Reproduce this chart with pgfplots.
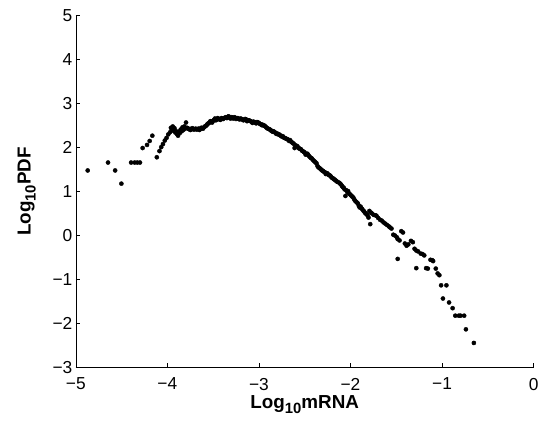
\documentclass[border=0pt]{standalone}
\usepackage{fontspec}
\setmainfont{Liberation Sans}
\usepackage{pgfplots}
\pgfplotsset{compat=1.18}
\newcommand{\sub}[1]{\raisebox{-0.5ex}{\fontsize{15}{15}\selectfont #1}}
\begin{document}
\begin{tikzpicture}
\useasboundingbox (0,0) rectangle (546pt,426pt);
\begin{axis}[
  at={(76.5pt,55pt)}, anchor=south west,
  width=462pt, height=355.3pt, scale only axis,
  xmin=-5, xmax=0, ymin=-3, ymax=5,
  axis lines=left, axis line style={-, line width=0.6pt},
  tick align=inside, major tick length=4.5pt, tick style={black, line width=0.6pt},
  xtick={-5,...,0}, ytick={-3,...,5},
  xticklabels={−5,−4,−3,−2,−1,0}, yticklabels={−3,−2,−1,0,1,2,3,4,5},
  tick label style={font=\fontsize{17.5}{18}\selectfont},
  xticklabel style={yshift=-7pt},
  xlabel={Log\sub{10}mRNA}, ylabel={Log\sub{10}PDF},
  label style={font=\bfseries\fontsize{19}{20}\selectfont},
  ylabel shift=10pt, xlabel shift=-2pt,
  clip=false,
]
% left tail and rising branch
\addplot[only marks, mark=*, mark size=2.1pt, black] coordinates {
(-4.870,1.48) (-4.648,1.66) (-4.570,1.48) (-4.502,1.18) (-4.396,1.66) (-4.357,1.66) (-4.328,1.66) (-4.299,1.66)
(-4.270,1.99) (-4.222,2.06) (-4.193,2.15) (-4.164,2.27) (-4.115,1.78) (-4.086,1.92) (-4.067,2.01) (-4.048,2.08)
(-4.028,2.16) (-4.009,2.22) (-3.990,2.30) (-3.970,2.35) (-3.951,2.42) (-3.932,2.38) (-3.912,2.34) (-3.893,2.30)
(-3.883,2.27) (-3.864,2.33) (-3.844,2.37) (-3.825,2.40) (-3.806,2.43) (-3.796,2.57) (-3.786,2.45) (-3.961,2.45)
(-3.941,2.48) (-3.922,2.44) (-3.903,2.37) (-3.874,2.36) (-3.854,2.41) (-3.835,2.46) (-3.815,2.48)
};
% dense body
\addplot[only marks, mark=*, mark size=2.1pt, black] coordinates {
(-3.78,2.44) (-3.76,2.42) (-3.74,2.41) (-3.72,2.43) (-3.70,2.42) (-3.68,2.41) (-3.66,2.43) (-3.64,2.42)
(-3.62,2.44) (-3.60,2.46) (-3.58,2.49) (-3.56,2.54) (-3.54,2.57) (-3.52,2.58) (-3.50,2.61) (-3.48,2.66)
(-3.46,2.64) (-3.44,2.65) (-3.42,2.63) (-3.40,2.66) (-3.38,2.67) (-3.36,2.69) (-3.34,2.70) (-3.32,2.68)
(-3.30,2.69) (-3.28,2.66) (-3.26,2.68) (-3.24,2.67) (-3.22,2.65) (-3.20,2.66) (-3.18,2.64) (-3.16,2.63)
(-3.14,2.64) (-3.12,2.62) (-3.10,2.61) (-3.08,2.58) (-3.06,2.59) (-3.04,2.57) (-3.02,2.58) (-3.00,2.56)
(-2.98,2.53) (-2.96,2.52) (-2.94,2.50) (-2.92,2.46) (-2.90,2.43) (-2.88,2.41) (-2.86,2.38) (-2.84,2.37)
(-2.82,2.34) (-2.80,2.32) (-2.78,2.30) (-2.76,2.27) (-2.74,2.26) (-2.72,2.22) (-2.70,2.20) (-2.68,2.18)
(-2.66,2.17) (-2.64,2.12) (-2.62,2.09) (-2.60,2.05) (-2.58,2.03) (-2.56,1.98) (-2.54,1.96) (-2.52,1.92)
(-2.50,1.89) (-2.48,1.85) (-2.46,1.83) (-2.44,1.78) (-2.42,1.75) (-2.40,1.70) (-2.38,1.66) (-2.36,1.58)
(-2.34,1.54) (-2.32,1.50) (-2.30,1.47) (-2.28,1.44) (-2.26,1.42) (-2.24,1.38) (-2.22,1.36) (-2.20,1.31)
(-2.18,1.28) (-2.16,1.25) (-2.14,1.22)
(-3.77,2.43) (-3.75,2.40) (-3.73,2.44) (-3.71,2.41) (-3.69,2.43) (-3.67,2.42) (-3.65,2.40) (-3.63,2.45)
(-3.61,2.43) (-3.59,2.48) (-3.57,2.51) (-3.55,2.55) (-3.53,2.60) (-3.51,2.57) (-3.49,2.63) (-3.47,2.62)
(-3.45,2.67) (-3.43,2.64) (-3.41,2.67) (-3.39,2.65) (-3.37,2.68) (-3.35,2.67) (-3.33,2.71) (-3.31,2.66)
(-3.29,2.68) (-3.27,2.69) (-3.25,2.65) (-3.23,2.67) (-3.21,2.64) (-3.19,2.65) (-3.17,2.62) (-3.15,2.65)
(-3.13,2.60) (-3.11,2.62) (-3.09,2.60) (-3.07,2.56) (-3.05,2.58) (-3.03,2.55) (-3.01,2.57) (-2.99,2.54)
(-2.97,2.51) (-2.95,2.50) (-2.93,2.48) (-2.91,2.44) (-2.89,2.42) (-2.87,2.39) (-2.85,2.36) (-2.83,2.35)
(-2.81,2.31) (-2.79,2.30) (-2.77,2.28) (-2.75,2.25) (-2.73,2.23) (-2.71,2.21) (-2.69,2.19) (-2.67,2.15)
(-2.65,2.14) (-2.63,2.10) (-2.61,1.99) (-2.59,2.04) (-2.57,2.00) (-2.55,1.97) (-2.53,1.93) (-2.51,1.90)
(-2.49,1.84) (-2.47,1.86) (-2.45,1.80) (-2.43,1.76) (-2.41,1.72) (-2.39,1.68) (-2.37,1.64) (-2.35,1.55)
(-2.33,1.52) (-2.31,1.48) (-2.29,1.45) (-2.27,1.40) (-2.25,1.41) (-2.23,1.37) (-2.21,1.33) (-2.19,1.30)
(-2.17,1.27) (-2.15,1.23)
};
% right tail
\addplot[only marks, mark=*, mark size=2.1pt, black] coordinates {
(-2.122,1.20) (-2.113,1.18) (-2.103,1.16) (-2.093,1.13) (-2.084,1.10) (-2.074,1.09) (-2.064,1.05) (-2.055,0.90)
(-2.045,1.03) (-2.035,0.99) (-2.026,1.01) (-2.016,0.96) (-2.006,0.94) (-1.997,0.92) (-1.987,0.90) (-1.977,0.88)
(-1.968,0.86) (-1.958,0.82) (-1.948,0.79) (-1.939,0.77) (-1.929,0.75) (-1.919,0.73) (-1.909,0.68) (-1.900,0.64)
(-1.890,0.66) (-1.880,0.62) (-1.871,0.60) (-1.861,0.57) (-1.851,0.55) (-1.842,0.52) (-1.832,0.50) (-1.822,0.48)
(-1.813,0.46) (-1.803,0.41) (-1.793,0.56) (-1.784,0.26) (-1.774,0.52) (-1.764,0.50) (-1.745,0.47) (-1.726,0.46)
(-1.716,0.45) (-1.697,0.40) (-1.677,0.36) (-1.658,0.34) (-1.639,0.30) (-1.619,0.27) (-1.600,0.24) (-1.581,0.21)
(-1.571,0.19) (-1.552,0.16) (-1.532,0.02) (-1.513,0.00) (-1.493,-0.04) (-1.484,-0.08) (-1.464,-0.11) (-1.445,0.10)
(-1.426,0.07) (-1.406,-0.18) (-1.387,-0.23) (-1.368,-0.20) (-1.339,-0.12) (-1.319,-0.15) (-1.300,-0.30) (-1.281,-0.34)
(-1.261,-0.36) (-1.232,-0.41) (-1.213,-0.42) (-1.194,-0.45) (-1.484,-0.53) (-1.126,-0.55) (-1.106,-0.56) (-1.097,-0.58)
(-1.155,-0.75) (-1.174,-0.74) (-1.281,-0.74) (-1.068,-0.75) (-1.048,-0.86) (-1.029,-0.90) (-1.010,-1.13) (-0.952,-1.13)
(-0.990,-1.43) (-0.923,-1.52) (-0.884,-1.65) (-0.855,-1.82) (-0.816,-1.82) (-0.797,-1.82) (-0.758,-1.82) (-0.739,-2.13)
(-0.652,-2.44)
};
\end{axis}
\end{tikzpicture}
\end{document}
